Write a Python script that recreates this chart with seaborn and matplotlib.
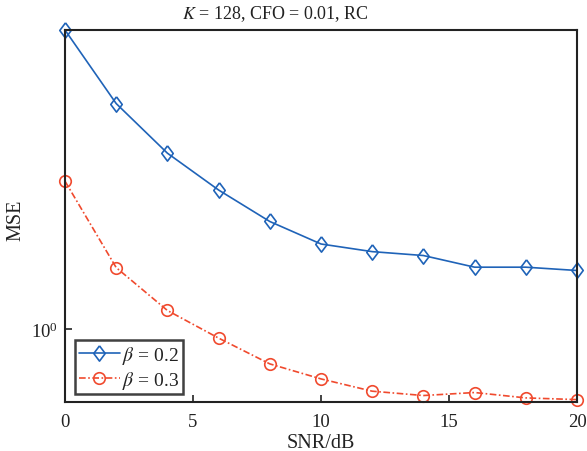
import numpy as np
import pandas as pd
import matplotlib
matplotlib.use('Agg')
import matplotlib.pyplot as plt
import matplotlib.ticker as mticker
import seaborn as sns

# data
snr = [0, 2, 4, 6, 8, 10, 12, 14, 16, 18, 20]
mse_b02 = [3.15, 2.375, 1.963, 1.704, 1.510, 1.385, 1.345, 1.325, 1.267, 1.267, 1.251]
mse_b03 = [1.763, 1.265, 1.073, 0.965, 0.874, 0.825, 0.787, 0.774, 0.783, 0.767, 0.762]
labels = [r'$\beta$ = 0.2', r'$\beta$ = 0.3']

sns.set_theme(style='white')
plt.rcParams['font.family'] = ['Liberation Serif', 'DejaVu Serif']
plt.rcParams['mathtext.fontset'] = 'stix'
plt.rcParams['font.size'] = 13

fig = plt.figure(figsize=(5.87, 4.52), dpi=100)
ax = fig.add_axes([0.1107, 0.1084, 0.983 - 0.1107, 0.9314 - 0.1084])

blue = '#1f63b8'
red = '#f04a2e'
diamond = [(0, 1), (0.75, 0), (0, -1), (-0.75, 0), (0, 1)]

sns.lineplot(x=snr, y=mse_b02, ax=ax, color=blue, marker=diamond, markersize=11,
             markerfacecolor='none', markeredgecolor=blue, markeredgewidth=1.2,
             linewidth=1.2, label=labels[0], clip_on=False)
sns.lineplot(x=snr, y=mse_b03, ax=ax, color=red, marker='o', markersize=8.3,
             markerfacecolor='none', markeredgecolor=red, markeredgewidth=1.2,
             linewidth=1.2, linestyle=(0, (4, 1.5, 1, 1.5)), label=labels[1], clip_on=False)

ax.set_yscale('log')
ax.set_xlim(0, 20)
ax.set_ylim(0.755, 3.15)
ax.set_xticks([0, 5, 10, 15, 20])
ax.yaxis.set_major_locator(mticker.FixedLocator([1]))
ax.yaxis.set_minor_locator(mticker.NullLocator())
ax.yaxis.set_major_formatter(mticker.LogFormatterSciNotation())
ax.tick_params(axis='both', which='major', direction='in', length=5, width=1.2,
               bottom=True, left=True, top=False, right=False,
               colors='#222222', labelsize=13.5, labelcolor='#222222')
ax.tick_params(axis='x', pad=8)
ax.tick_params(axis='y', pad=5)

for s in ax.spines.values():
    s.set_color('#222222')
    s.set_linewidth(1.5)
    s.set_visible(True)

fig.text(275 / 587, 1 - 14 / 452, r'$K$ = 128, CFO = 0.01, RC', fontsize=13,
         color='#222222', ha='center', va='center')
ax.set_xlabel('SNR/dB', fontsize=14.5, color='#222222', labelpad=2)
ax.set_ylabel('MSE', fontsize=14.5, color='#222222')
ax.yaxis.set_label_coords(-0.078, 0.49)

leg = ax.legend(loc='lower left', bbox_to_anchor=(0.012, 0.01), fontsize=14,
                frameon=True, fancybox=False, handlelength=2.1, handletextpad=0.1,
                borderpad=0.2, labelspacing=0.12, borderaxespad=0.2)
leg.get_frame().set_edgecolor('#111111')
leg.get_frame().set_linewidth(1.8)
for t in leg.get_texts():
    t.set_color('#222222')

fig.savefig('out.png', dpi=100)
